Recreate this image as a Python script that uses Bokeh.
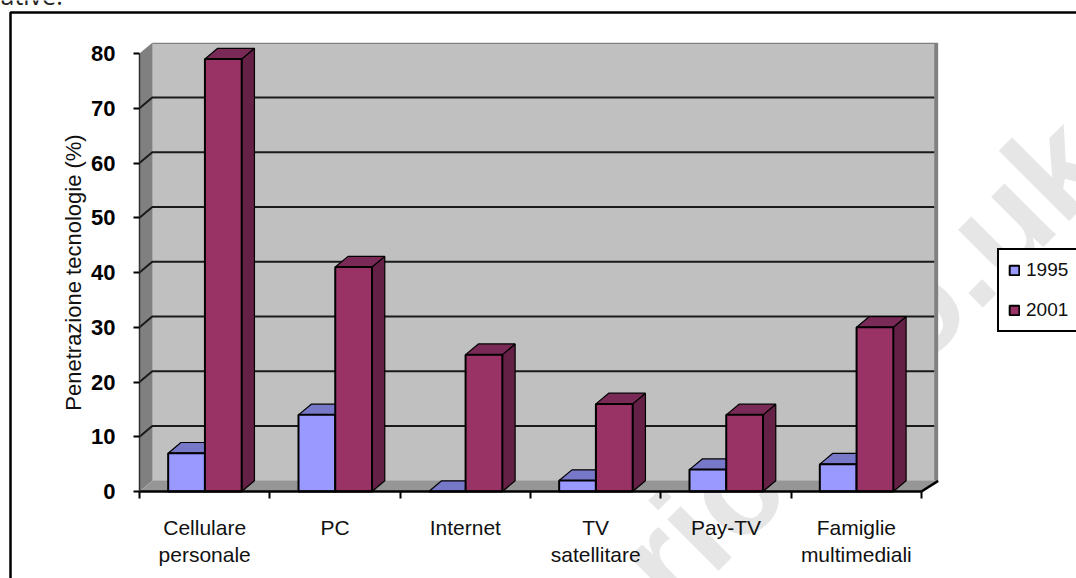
from bokeh.embed import file_html
from bokeh.models import (BoxAnnotation, FixedTicker, Label, Legend, LegendItem,
                          LinearAxis, Range1d, ColumnDataSource)
from bokeh.plotting import figure
from bokeh.resources import INLINE

# Household technology penetration, percent
categories = ["Cellulare\npersonale", "PC", "Internet", "TV\nsatellitare", "Pay-TV", "Famiglie\nmultimediali"]
series_1995 = [7, 14, 0, 2, 4, 5]
series_2001 = [79, 41, 25, 16, 14, 30]
y_ticks = [0, 10, 20, 30, 40, 50, 60, 70, 80]

W, H = 1076, 578
LEFT, BASE = 139, 491          # pixel position of the front-plane origin
PX_PER_CAT = 130.33
PX_PER_UNIT = 5.475

# Oblique projection: how far the back plane is shifted, in axis units
DX = 0.098
DY = 1.95
BAR_W = 0.282
BAR_START = 0.22
N = len(categories)


def to_x(px):
    return (px - LEFT) / PX_PER_CAT


def to_y(py):
    return (BASE - py) / PX_PER_UNIT


p = figure(width=W, height=H, output_backend="svg", toolbar_location=None,
           x_range=Range1d(to_x(0), to_x(W)), y_range=Range1d(to_y(H), to_y(0)),
           min_border=0, x_axis_type=None, y_axis_type=None,
           background_fill_color="white", border_fill_color="white", outline_line_color=None)
p.grid.visible = False

# Stamp lying behind the chart
for word, wx, wy in [("ric", 640, 581), ("o.uk", 883, 339)]:
    p.add_layout(Label(x=to_x(wx), y=to_y(wy), text=word, angle=45, angle_units="deg",
                       text_font="Liberation Sans", text_font_style="bold", text_font_size="137px",
                       text_color="#e6e6e6", text_align="left", text_baseline="alphabetic",
                       level="underlay"))

# Walls and floor of the 3D box
top = y_ticks[-1]
p.patch([DX, 6 + DX + 0.03, 6 + DX + 0.03, DX], [DY, DY, top + DY, top + DY], fill_color="#808080", line_color=None)
p.patch([DX, 6 + DX, 6 + DX, DX], [DY, DY, top + DY - 0.2, top + DY - 0.2], fill_color="#c0c0c0", line_color=None)
p.patch([0, DX, DX, 0], [0, DY, top + DY, top], fill_color="#808080", line_color=None)
p.patch([0, 6, 6 + DX + 0.03, DX], [0, 0, DY, DY], fill_color="#969696", line_color=None)
p.line([6, 6 + DX + 0.03], [0, DY], line_color="black", line_width=2.5)

# Gridlines run along the side wall and then across the back wall
grid = y_ticks[1:-1]
p.multi_line([[0, DX, 6 + DX] for _ in grid], [[v, v + DY, v + DY] for v in grid],
             line_color="#1a1a1a", line_width=2)


def draw_series(values, offset, front, roof, side):
    lefts = [i + offset for i in range(N)]
    rights = [x + BAR_W for x in lefts]
    p.patches([[r, r + DX, r + DX, r] for r in rights],
              [[0, DY, v + DY, v] for v in values],
              fill_color=side, line_color="black", line_width=1.2)
    p.patches([[l, r, r + DX, l + DX] for l, r in zip(lefts, rights)],
              [[v, v, v + DY, v + DY] for v in values],
              fill_color=roof, line_color="black", line_width=1.2)
    src = ColumnDataSource(dict(x=[l + BAR_W / 2 for l in lefts], top=values))
    return p.vbar(x="x", top="top", bottom=0, width=BAR_W, source=src,
                  fill_color=front, line_color="black", line_width=2)


bars_1995 = draw_series(series_1995, BAR_START, "#9999ff", "#7878c8", "#5c5cb0")
bars_2001 = draw_series(series_2001, BAR_START + BAR_W, "#993366", "#7a2a56", "#652045")

# Axes pinned to the front plane of the box
y_axis = LinearAxis(ticker=FixedTicker(ticks=y_ticks), bounds=(0, top), fixed_location=0,
                    axis_label="Penetrazione tecnologie (%)",
                    axis_label_text_font="Liberation Sans", axis_label_text_font_size="22px",
                    axis_label_text_font_style="normal", axis_label_text_color="#111111",
                    axis_label_standoff=2,
                    major_label_text_font="Liberation Sans", major_label_text_font_size="22px",
                    major_label_text_font_style="bold", major_label_text_color="black",
                    major_label_standoff=18,
                    axis_line_color="#303030", axis_line_width=1.5,
                    major_tick_line_color="black", major_tick_line_width=2,
                    major_tick_in=0, major_tick_out=6, minor_tick_line_color=None)
p.add_layout(y_axis, "left")

centers = [i + 0.5 for i in range(N)]
x_axis = LinearAxis(ticker=FixedTicker(ticks=centers, minor_ticks=list(range(N + 1))),
                    bounds=(0, N), fixed_location=0,
                    major_label_overrides=dict(zip(centers, categories)),
                    major_label_text_font="Liberation Sans", major_label_text_font_size="21px",
                    major_label_text_color="#111111", major_label_standoff=17,
                    axis_line_color="black", axis_line_width=2.5,
                    major_tick_line_color=None, major_tick_in=0, major_tick_out=0,
                    minor_tick_line_color="black", minor_tick_line_width=2,
                    minor_tick_in=0, minor_tick_out=7)
p.add_layout(x_axis, "below")

# Legend box runs off the right side of the page
legend = Legend(items=[LegendItem(label="1995", renderers=[bars_1995]),
                       LegendItem(label="2001", renderers=[bars_2001])],
                location=(997, H - 332), orientation="vertical", margin=0,
                padding=9, spacing=18, glyph_width=12, glyph_height=12, label_width=120,
                label_standoff=6, label_text_font="Liberation Sans", label_text_font_size="19px",
                label_text_color="#111111", border_line_color="black", border_line_alpha=1,
                border_line_width=2.5, background_fill_color="white", background_fill_alpha=1)
p.add_layout(legend, "center")

# Frame of the figure and the end of the sentence above it
p.add_layout(BoxAnnotation(left=to_x(10), right=to_x(W + 40), top=to_y(12), bottom=to_y(H + 40),
                           fill_color=None, line_color="black", line_alpha=1, line_width=2.5))
p.add_layout(Label(x=to_x(0), y=to_y(-6), text="ative.", text_font="Open Sans", text_font_size="25px",
                   text_color="#222222", text_baseline="alphabetic"))

open("out.html", "w").write(file_html(p, INLINE))
